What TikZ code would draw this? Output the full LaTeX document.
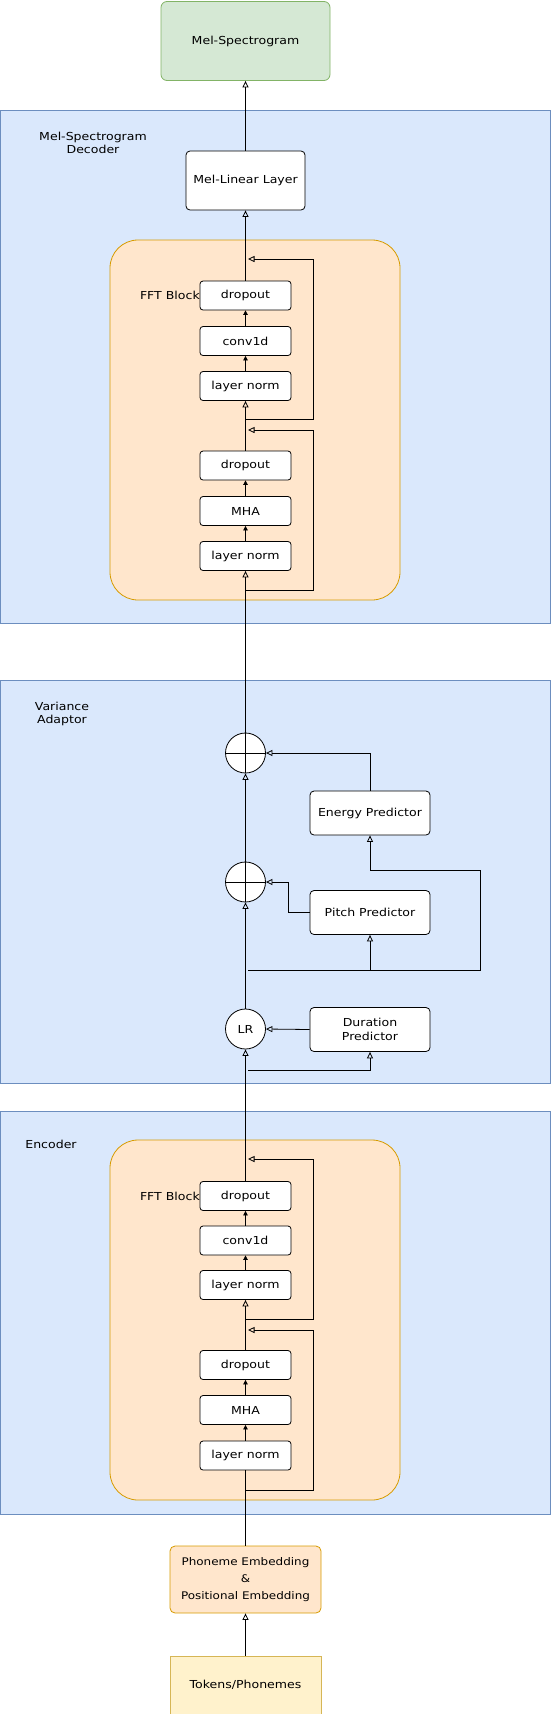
\documentclass[tikz,border=0pt]{standalone}
\usepackage{fontspec}
\setmainfont{DejaVu Sans}
\newfontfamily\widefont{DejaVu Sans}[FakeStretch=1.14]
\usetikzlibrary{arrows.meta}
\definecolor{bluefill}{HTML}{DAE8FC}
\definecolor{bluedraw}{HTML}{6C8EBF}
\definecolor{orfill}{HTML}{FFE6CC}
\definecolor{ordraw}{HTML}{D79B00}
\definecolor{grfill}{HTML}{D5E8D4}
\definecolor{grdraw}{HTML}{82B366}
\definecolor{yefill}{HTML}{FFF2CC}
\definecolor{yedraw}{HTML}{D6B656}
\tikzset{
  txt/.style={font=\widefont\fontsize{11}{13.5}\selectfont},
  region/.style={draw=bluedraw, fill=bluefill, line width=0.8pt},
  fftregion/.style={draw=ordraw, fill=orfill, line width=0.8pt, rounded corners=28pt},
  layerbox/.style={txt, draw=black, fill=white, rounded corners=3pt, line width=0.8pt, minimum width=91pt, minimum height=29pt, inner sep=0pt},
  predbox/.style={txt, draw=black, fill=white, rounded corners=4pt, line width=0.8pt, minimum width=120pt, minimum height=44pt, inner sep=0pt, align=center},
  opcirc/.style={txt, draw=black, fill=white, circle, line width=0.8pt, minimum size=40pt, inner sep=0pt},
  lbl/.style={txt, align=center, inner sep=0pt},
  conn/.style={draw=black, line width=0.8pt, -{Triangle[open, length=6.5pt, width=6pt]}},
  sconn/.style={draw=black, line width=0.8pt, -{Triangle[length=4.5pt, width=4.5pt]}},
  plain/.style={draw=black, line width=0.8pt},
}
\begin{document}
\begin{tikzpicture}[x=1pt,y=-1pt]
\useasboundingbox (0,0) rectangle (551,1714);
% ---------- regions ----------
\path[region] (0,110) rectangle (550,623);
\path[fftregion] (110,240) rectangle (400,600);
\path[region] (0,680) rectangle (550,1083);
\path[region] (0,1111) rectangle (550,1514);
\path[fftregion] (110,1140) rectangle (400,1500);

% ---------- top ----------
\node[txt, draw=grdraw, fill=grfill, rounded corners=6pt, line width=0.8pt, minimum width=169pt, minimum height=79pt, inner sep=0pt] (mel) at (245.5,41) {Mel-Spectrogram};
\node[lbl] (declbl) at (93,143) {Mel-Spectrogram\\Decoder};
\node[txt, draw=black, fill=white, rounded corners=4pt, line width=0.8pt, minimum width=119pt, minimum height=59pt, inner sep=0pt] (mlin) at (245.5,180.5) {Mel-Linear Layer};

% ---------- decoder FFT ----------
\node[layerbox] (dd1) at (245.5,295.5) {dropout};
\node[layerbox] (dconv) at (245.5,341) {conv1d};
\node[layerbox] (dln2) at (245.5,386) {layer norm};
\node[layerbox] (dd2) at (245.5,465.5) {dropout};
\node[layerbox] (dmha) at (245.5,511) {MHA};
\node[layerbox] (dln1) at (245.5,556) {layer norm};
\node[lbl, anchor=east] (dfft) at (200,295) {FFT Block};

% ---------- variance adaptor ----------
\node[lbl] (varlbl) at (62,714) {Variance\\Adaptor};
\node[opcirc] (pe) at (245.5,753) {};
\draw[plain] (pe.north) -- (pe.south) (pe.west) -- (pe.east);
\node[predbox] (energy) at (370,813) {Energy Predictor};
\node[opcirc] (pp) at (245.5,882) {};
\draw[plain] (pp.north) -- (pp.south) (pp.west) -- (pp.east);
\node[predbox] (pitch) at (370,912.5) {Pitch Predictor};
\node[opcirc] (lr) at (245.5,1029) {LR};
\node[predbox] (dur) at (370,1029.5) {Duration\\Predictor};

% ---------- encoder ----------
\node[lbl] (enclbl) at (51,1144) {Encoder};
\node[layerbox] (ed1) at (245.5,1196) {dropout};
\node[layerbox] (econv) at (245.5,1240.5) {conv1d};
\node[layerbox] (eln2) at (245.5,1285) {layer norm};
\node[layerbox] (ed2) at (245.5,1365) {dropout};
\node[layerbox] (emha) at (245.5,1410) {MHA};
\node[layerbox] (eln1) at (245.5,1455.5) {layer norm};
\node[lbl, anchor=east] (efft) at (200,1196) {FFT Block};

% ---------- bottom ----------
\node[draw=ordraw, fill=orfill, rounded corners=5pt, line width=0.8pt, minimum width=151pt, minimum height=67pt, inner sep=0pt, align=center, font=\widefont\fontsize{10.5}{17}\selectfont] (phon) at (245.5,1579.5) {Phoneme Embedding\\\&\\Positional Embedding};
\node[txt, draw=yedraw, fill=yefill, line width=0.8pt, minimum width=151pt, minimum height=58pt, inner sep=0pt] (tok) at (245.5,1685) {Tokens/Phonemes};

% ---------- coordinates ----------
\coordinate (dr1s) at (245.5,419);
\coordinate (dr1a) at (313,419);
\coordinate (dr1b) at (313,259);
\coordinate (dr1e) at (248,259);
\coordinate (dr2s) at (245.5,590);
\coordinate (dr2a) at (313,590);
\coordinate (dr2b) at (313,430);
\coordinate (dr2e) at (248,430);
\coordinate (er1s) at (245.5,1319);
\coordinate (er1a) at (313,1319);
\coordinate (er1b) at (313,1159);
\coordinate (er1e) at (248,1159);
\coordinate (er2s) at (245.5,1490);
\coordinate (er2a) at (313,1490);
\coordinate (er2b) at (313,1330);
\coordinate (er2e) at (248,1330);
\coordinate (vin1) at (248,970);
\coordinate (vin2) at (248,1070);

% ---------- connectors ----------
\draw[conn] (tok.north) -- (phon.south);
\draw[plain] (phon.north) -- (eln1.south);
\draw[sconn] (eln1.north) -- (emha.south);
\draw[sconn] (emha.north) -- (ed2.south);
\draw[conn] (ed2.north) -- (eln2.south);
\draw[sconn] (eln2.north) -- (econv.south);
\draw[sconn] (econv.north) -- (ed1.south);
\draw[conn] (er2s) -- (er2a) -- (er2b) -- (er2e);
\draw[conn] (er1s) -- (er1a) -- (er1b) -- (er1e);
\draw[conn] (ed1.north) -- (lr.south);

\draw[conn] (dur.west) -- (lr.east);
\draw[conn] (vin2) -| (dur.south);
\draw[conn] (lr.north) -- (pp.south);
\draw[conn] (vin1) -| (pitch.south);
\draw[conn] (vin1) -- (480,970) -- (480,870) -| (energy.south);
\draw[conn] (pitch.west) -- (288,912.5) |- (pp.east);
\draw[conn] (pp.north) -- (pe.south);
\draw[conn] (energy.north) |- (pe.east);
\draw[conn] (pe.north) -- (dln1.south);

\draw[sconn] (dln1.north) -- (dmha.south);
\draw[sconn] (dmha.north) -- (dd2.south);
\draw[conn] (dd2.north) -- (dln2.south);
\draw[sconn] (dln2.north) -- (dconv.south);
\draw[sconn] (dconv.north) -- (dd1.south);
\draw[conn] (dr2s) -- (dr2a) -- (dr2b) -- (dr2e);
\draw[conn] (dr1s) -- (dr1a) -- (dr1b) -- (dr1e);
\draw[conn] (dd1.north) -- (mlin.south);
\draw[conn] (mlin.north) -- (mel.south);
\end{tikzpicture}
\end{document}
